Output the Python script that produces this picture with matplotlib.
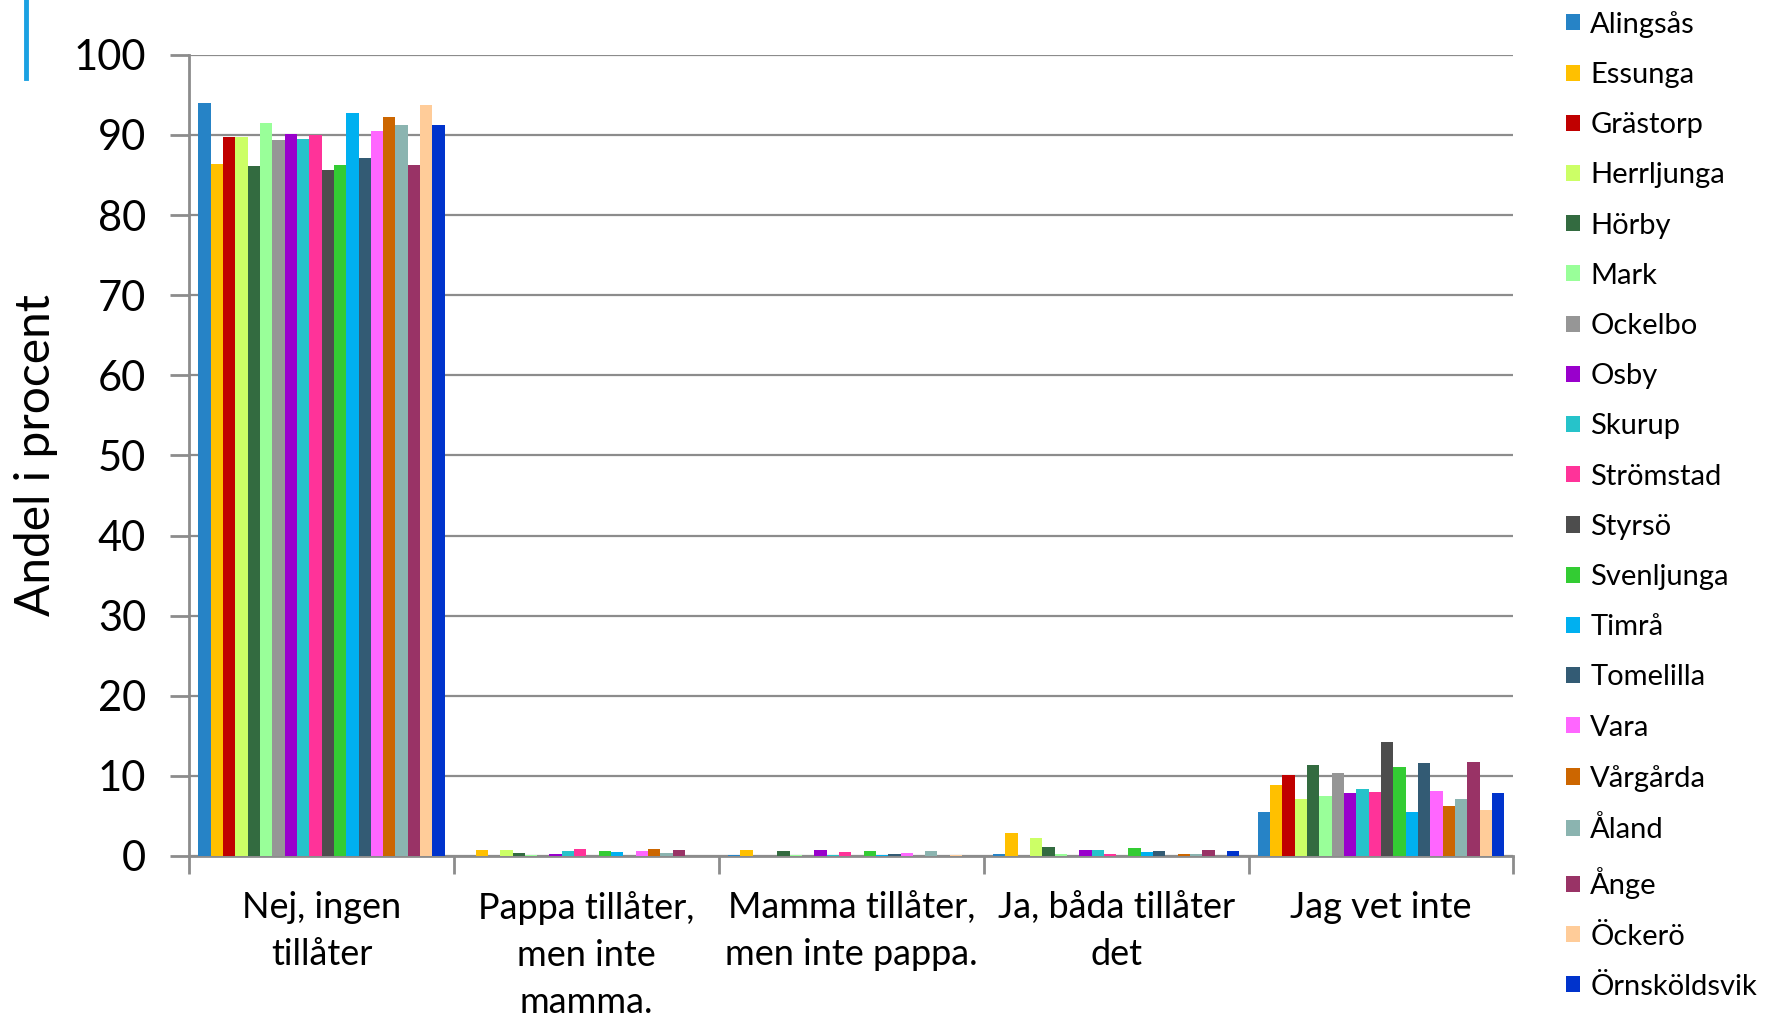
import numpy as np
import matplotlib
matplotlib.use("Agg")
import matplotlib.pyplot as plt
from matplotlib.lines import Line2D

plt.rcParams['font.family'] = ['Lato', 'DejaVu Sans']

categories = ["Nej, ingen\ntillåter", "Pappa tillåter,\nmen inte\nmamma.",
              "Mamma tillåter,\nmen inte pappa.", "Ja, båda tillåter\ndet", "Jag vet inte"]

municipalities = ["Alingsås", "Essunga", "Grästorp", "Herrljunga", "Hörby", "Mark",
                  "Ockelbo", "Osby", "Skurup", "Strömstad", "Styrsö", "Svenljunga",
                  "Timrå", "Tomelilla", "Vara", "Vårgårda", "Åland", "Ånge",
                  "Öckerö", "Örnsköldsvik"]

colors = ["#2683C6", "#FFC000", "#C00000", "#CCFF66", "#336B40", "#99FF99",
          "#969696", "#9900CC", "#26C3CA", "#FF3399", "#4D4D4D", "#33CC33",
          "#00B0F0", "#335B74", "#FF66FF", "#CC6600", "#8BB4B0", "#993366",
          "#FFCC99", "#0033CC"]

# values per municipality: [Nej, Pappa, Mamma, Ja båda, Vet inte]
values = {
    "Alingsås":     [94.0, 0.0, 0.15, 0.2, 5.5],
    "Essunga":      [86.4, 0.7, 0.7, 2.9, 8.9],
    "Grästorp":     [89.8, 0.0, 0.0, 0.0, 10.1],
    "Herrljunga":   [89.7, 0.7, 0.0, 2.2, 7.1],
    "Hörby":        [86.1, 0.4, 0.6, 1.1, 11.4],
    "Mark":         [91.5, 0.15, 0.15, 0.3, 7.5],
    "Ockelbo":      [89.4, 0.0, 0.0, 0.0, 10.4],
    "Osby":         [90.1, 0.2, 0.7, 0.7, 7.8],
    "Skurup":       [89.5, 0.6, 0.15, 0.75, 8.4],
    "Strömstad":    [90.0, 0.9, 0.5, 0.2, 8.0],
    "Styrsö":       [85.6, 0.0, 0.0, 0.0, 14.2],
    "Svenljunga":   [86.2, 0.6, 0.6, 1.0, 11.1],
    "Timrå":        [92.8, 0.5, 0.15, 0.5, 5.5],
    "Tomelilla":    [87.1, 0.0, 0.3, 0.6, 11.6],
    "Vara":         [90.5, 0.6, 0.4, 0.0, 8.1],
    "Vårgårda":     [92.2, 0.9, 0.0, 0.2, 6.3],
    "Åland":        [91.2, 0.4, 0.6, 0.3, 7.1],
    "Ånge":         [86.3, 0.75, 0.0, 0.75, 11.7],
    "Öckerö":       [93.8, 0.0, 0.15, 0.0, 5.8],
    "Örnsköldsvik": [91.2, 0.0, 0.0, 0.6, 7.9],
}

fig = plt.figure(figsize=(17.68, 10.16), dpi=100)
ax = fig.add_axes([0.107, 0.1575, 0.749, 0.7885])

n = len(municipalities)
x = np.arange(len(categories))
group_w = 0.93
bw = group_w / n
for i, m in enumerate(municipalities):
    offs = -group_w / 2 + bw * (i + 0.5)
    ax.bar(x + offs, values[m], width=bw, color=colors[i], label=m,
           edgecolor='none', zorder=3)

ax.set_xlim(-0.5, len(categories) - 0.5)
ax.set_ylim(0, 100)
ax.set_yticks(np.arange(0, 101, 10))
ax.yaxis.grid(True, color='#8C8C8C', linewidth=1.6, zorder=0)
ax.set_axisbelow(True)

ax.set_xticks(x)
ax.set_xticklabels(categories, fontsize=26, linespacing=1.52, va='top')
ax.tick_params(axis='x', length=0, pad=25)
ax.set_xticks(np.arange(-0.5, len(categories)), minor=True)
ax.tick_params(axis='x', which='minor', length=13, width=2, color='#8C8C8C', direction='out')
ax.tick_params(axis='y', labelsize=30, length=14, width=2, color='#8C8C8C', pad=17)

for s in ['top', 'right']:
    ax.spines[s].set_visible(False)
for s in ['left', 'bottom']:
    ax.spines[s].set_color('#8C8C8C')
    ax.spines[s].set_linewidth(2)

ax.set_ylabel("Andel i procent", fontsize=34.5, fontweight='normal', color='black')
ax.yaxis.set_label_coords(-0.099, 0.5)

leg = ax.legend(loc='upper left', bbox_to_anchor=(1.040, 1.055), frameon=False,
                fontsize=21, handlelength=0.47, handleheight=0.47,
                labelspacing=0.83, handletextpad=0.35, borderaxespad=0, borderpad=0)

fig.add_artist(Line2D([0.0149, 0.0149], [1.0, 0.923], color='#1BA1E2', linewidth=3.5))

fig.savefig("out.png", dpi=100)
